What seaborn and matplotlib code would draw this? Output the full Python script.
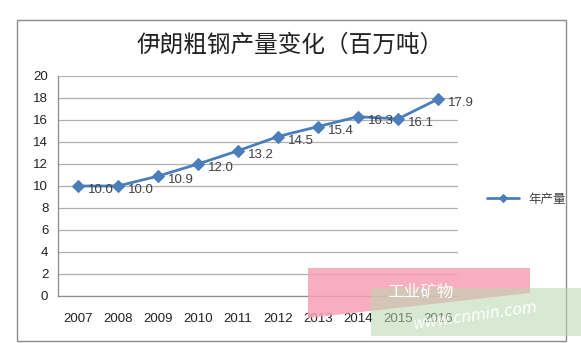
import matplotlib
matplotlib.use("Agg")
import matplotlib.pyplot as plt
import seaborn as sns
import pandas as pd
from matplotlib.patches import Rectangle, Polygon

years = ["2007", "2008", "2009", "2010", "2011", "2012", "2013", "2014", "2015", "2016"]
output = [10.0, 10.0, 10.9, 12.0, 13.2, 14.5, 15.4, 16.3, 16.1, 17.9]
series_name = "年产量"
title = "伊朗粗钢产量变化（百万吨）"
y_ticks = [0, 2, 4, 6, 8, 10, 12, 14, 16, 18, 20]

sns.set_theme(style="white")
plt.rcParams['font.family'] = ['Noto Sans CJK SC', 'DejaVu Sans']

W, H = 581, 343
fig = plt.figure(figsize=(W / 100, H / 100), dpi=100)

def fx(px):
    return px / W

def fy(py):
    return 1 - py / H

# outer chart border
fig.patches.append(Rectangle((fx(17), fy(341)), fx(566) - fx(17), fy(20) - fy(341),
                             transform=fig.transFigure, fill=False,
                             edgecolor="#8c8c8c", linewidth=1.0, zorder=0))

ax = fig.add_axes([fx(58), fy(296), fx(458) - fx(58), fy(76) - fy(296)])
df = pd.DataFrame({"year": years, "value": output})
df["x"] = range(len(years))

blue = "#4A7EBB"
sns.lineplot(data=df, x="x", y="value", ax=ax, color=blue, linewidth=2.0,
             marker="D", markersize=6, markeredgecolor=blue, label=series_name,
             legend=False)

for xi, v in zip(df["x"], df["value"]):
    ax.annotate(f"{v:.1f}", (xi, v), xytext=(7, -3), textcoords="offset points",
                ha="left", va="center", fontsize=9.5, color="#404040",
                family=['Liberation Sans', 'DejaVu Sans'])

ax.set_xlim(-0.5, len(years) - 0.5)
ax.set_ylim(0, 20)
ax.set_yticks(y_ticks)
ax.set_yticklabels([str(t) for t in y_ticks], fontsize=9.5, color="#222222",
                   family=['Liberation Sans', 'DejaVu Sans'])
ax.set_xticks(list(df["x"]))
ax.set_xticklabels(years, fontsize=9.5, color="#222222",
                   family=['Liberation Sans', 'DejaVu Sans'])
ax.tick_params(axis="x", length=0, pad=12)
ax.set_xticks([i - 0.5 for i in range(len(years) + 1)], minor=True)
ax.tick_params(axis="x", which="minor", length=4, color="#8c8c8c", direction="out")
ax.tick_params(axis="y", length=4, color="#8c8c8c", direction="out", pad=3)
ax.set_xlabel("")
ax.set_ylabel("")
ax.grid(axis="y", color="#b0b0b0", linewidth=0.9)
ax.set_axisbelow(True)
for s in ["top", "right"]:
    ax.spines[s].set_visible(False)
for s in ["left", "bottom"]:
    ax.spines[s].set_color("#8c8c8c")
    ax.spines[s].set_linewidth(0.9)

fig.text(fx(290), fy(45), title, ha="center", va="center", fontsize=17, color="#222222")

# legend
handles, labels = ax.get_legend_handles_labels()
fig.legend(handles, labels, loc="center left", bbox_to_anchor=(fx(476), fy(199)),
           frameon=False, fontsize=9, handlelength=2.5, markerscale=0.7,
           labelcolor="#404040")

# watermark
fig.patches.append(Polygon([(fx(308), fy(268)), (fx(530), fy(268)),
                            (fx(530), fy(293)), (fx(308), fy(318))],
                           closed=True, transform=fig.transFigure,
                           facecolor="#f8a0b4", edgecolor="none", alpha=0.85, zorder=5))
fig.patches.append(Rectangle((fx(371), fy(336)), fx(581) - fx(371), fy(288) - fy(336),
                             transform=fig.transFigure, facecolor="#b9d8b0",
                             edgecolor="none", alpha=0.55, zorder=5))
fig.text(fx(420), fy(292), "工业矿物", ha="center", va="center", fontsize=12,
         color="white", zorder=6)
fig.text(fx(475), fy(316), "www.cnmin.com", ha="center", va="center", fontsize=11,
         color="white", rotation=8, style="italic", zorder=6,
         family=['DejaVu Sans'])

fig.savefig("out.png", dpi=100)
